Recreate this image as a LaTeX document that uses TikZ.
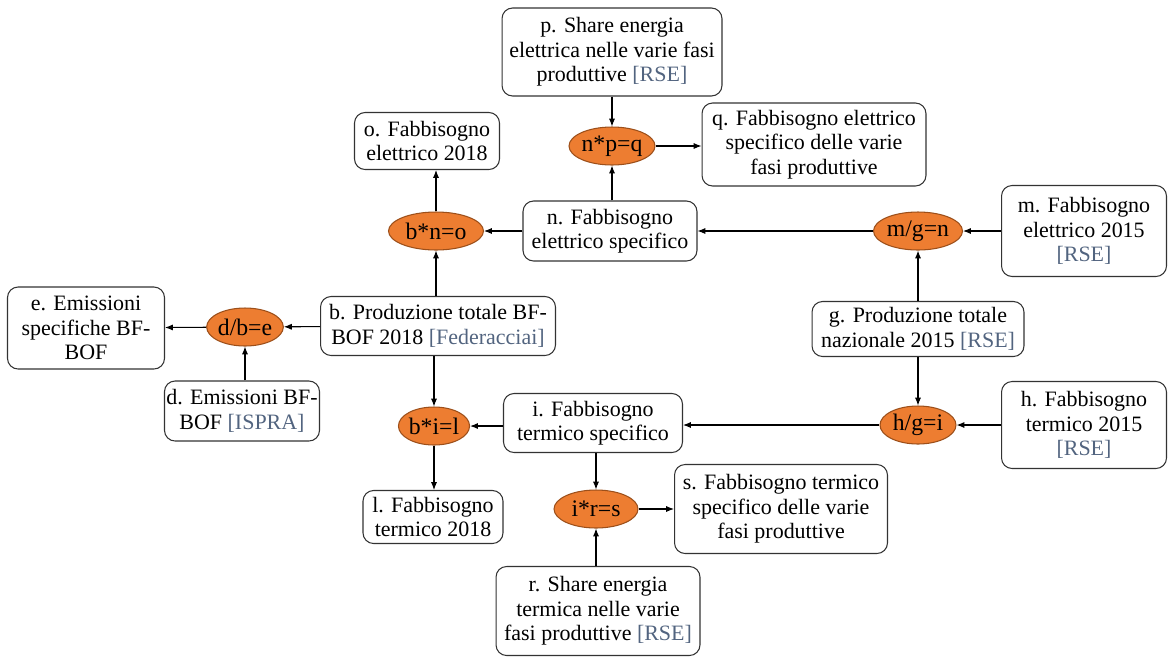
\documentclass[tikz,border=0pt]{standalone}
\usepackage{fontspec}
\setmainfont{Liberation Serif}
\usetikzlibrary{shapes.geometric,arrows.meta}
\definecolor{opfill}{HTML}{ED7D31}
\definecolor{opline}{HTML}{9C4F1A}
\definecolor{fonte}{HTML}{52647F}
\newcommand{\fonte}[1]{\textcolor{fonte}{[#1]}}
\begin{document}
\begin{tikzpicture}[x=0.02cm,y=-0.02cm,
	box/.style={draw=black!80,line width=0.6pt,rounded corners=6pt,align=center,inner sep=1pt,font=\fontsize{12.5}{13.9}\selectfont},
	op/.style={ellipse,draw=opline,line width=0.6pt,fill=opfill,inner sep=0pt,minimum height=0.76cm,font=\fontsize{13.5}{14}\selectfont},
	arr/.style={-{Latex[length=4.5pt,width=3.5pt]},line width=0.6pt}]
	\useasboundingbox (0,0) rectangle (1169,657);
	% caselle
	\node[box,minimum width=4.4cm,minimum height=1.76cm] (p) at (612,52) {p. Share energia\\elettrica nelle varie fasi\\produttive \fonte{RSE}};
	\node[box,minimum width=4.48cm,minimum height=1.66cm] (q) at (814,144.5) {q. Fabbisogno elettrico\\specifico delle varie\\fasi produttive};
	\node[box,minimum width=2.9cm,minimum height=1.14cm] (o) at (427,141) {o. Fabbisogno\\elettrico 2018};
	\node[box,minimum width=3.48cm,minimum height=1.2cm] (n) at (610,231) {n. Fabbisogno\\elettrico specifico};
	\node[box,minimum width=3.3cm,minimum height=1.82cm] (m) at (1084,231) {m. Fabbisogno\\elettrico 2015\\\fonte{RSE}};
	\node[box,minimum width=3.14cm,minimum height=1.64cm] (e) at (86,328) {e. Emissioni\\specifiche BF-\\BOF};
	\node[box,minimum width=4.7cm,minimum height=1.18cm] (b) at (438,326) {b. Produzione totale BF-\\BOF 2018 \fonte{Federacciai}};
	\node[box,minimum width=4.24cm,minimum height=1.1cm] (g) at (918,329) {g. Produzione totale\\nazionale 2015 \fonte{RSE}};
	\node[box,minimum width=3.1cm,minimum height=1.2cm] (d) at (242,411) {d. Emissioni BF-\\BOF \fonte{ISPRA}};
	\node[box,minimum width=3.58cm,minimum height=1.18cm] (i) at (593,423) {i. Fabbisogno\\termico specifico};
	\node[box,minimum width=3.3cm,minimum height=1.74cm] (h) at (1084,425) {h. Fabbisogno\\termico 2015\\\fonte{RSE}};
	\node[box,minimum width=2.8cm,minimum height=1.06cm] (l) at (433,517) {l. Fabbisogno\\termico 2018};
	\node[box,minimum width=4.26cm,minimum height=1.78cm] (s) at (781,509) {s. Fabbisogno termico\\specifico delle varie\\fasi produttive};
	\node[box,minimum width=4.08cm,minimum height=1.78cm] (r) at (598,611) {r. Share energia\\termica nelle varie\\fasi produttive \fonte{RSE}};
	% operazioni
	\node[op,minimum width=1.68cm] (npq) at (612,146) {n*p=q};
	\node[op,minimum width=1.9cm] (bno) at (436,231) {b*n=o};
	\node[op,minimum width=1.78cm] (mgn) at (918,231) {m/g=n};
	\node[op,minimum width=1.52cm] (dbe) at (245,327) {d/b=e};
	\node[op,minimum width=1.38cm] (bil) at (434,426) {b*i=l};
	\node[op,minimum width=1.52cm] (hgi) at (918,425) {h/g=i};
	\node[op,minimum width=1.68cm] (irs) at (596,509) {i*r=s};
	% frecce
	\draw[arr] (p) -- (npq);
	\draw[arr] (n.north -| npq) -- (npq);
	\draw[arr] (npq) -- (npq -| q.west);
	\draw[arr] (bno) -- (bno |- o.south);
	\draw[arr] (n) -- (bno);
	\draw[arr] (b.north -| bno) -- (bno);
	\draw[arr] (mgn) -- (n);
	\draw[arr] (m) -- (mgn);
	\draw[arr] (g) -- (mgn);
	\draw[arr] (b) -- (dbe);
	\draw[arr] (dbe) -- (e);
	\draw[arr] (d.north -| dbe) -- (dbe);
	\draw[arr] (b.south -| bil) -- (bil);
	\draw[arr] (i.west |- bil) -- (bil);
	\draw[arr] (bil) -- (bil |- l.north);
	\draw[arr] (hgi) -- (hgi -| i.east);
	\draw[arr] (h) -- (hgi);
	\draw[arr] (g) -- (hgi);
	\draw[arr] (i.south -| irs) -- (irs);
	\draw[arr] (r.north -| irs) -- (irs);
	\draw[arr] (irs) -- (s);
\end{tikzpicture}
\end{document}
